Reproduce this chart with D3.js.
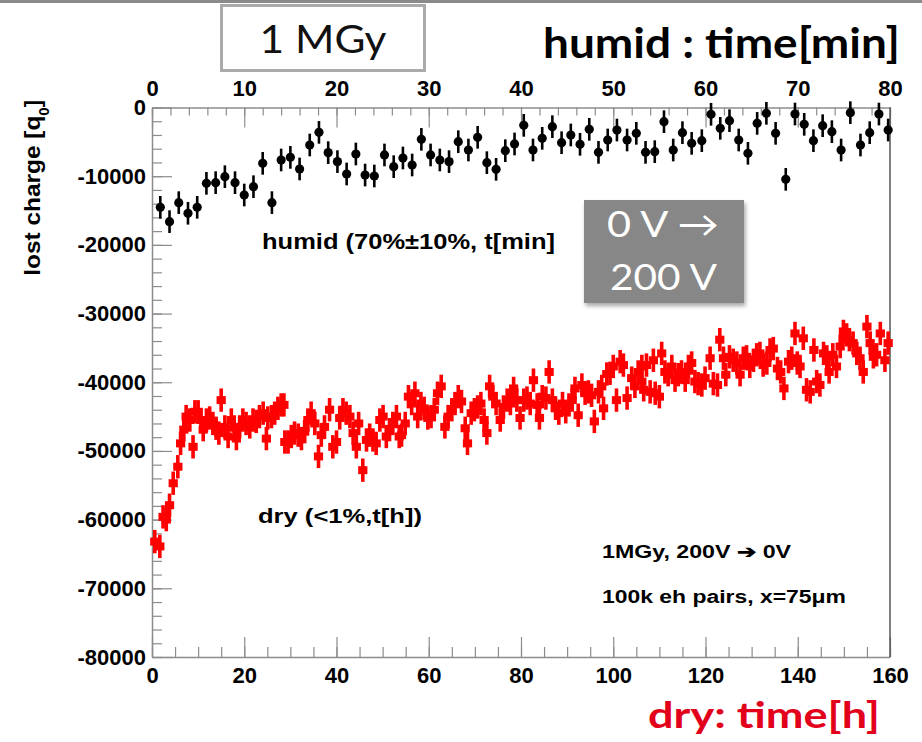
<!DOCTYPE html>
<html>
<head>
<meta charset="utf-8">
<script src="https://cdn.jsdelivr.net/npm/d3@7"></script>
<style>
  html, body { margin: 0; padding: 0; background: #fff; }
  svg { display: block; }
</style>
</head>
<body>
<script>
// ---- data -------------------------------------------------------------
// humid run: time in minutes, lost charge in q0
const humidTime = [0.9,1.9,2.9,3.9,4.9,5.9,6.9,7.9,9.0,10.0,11.0,12.0,13.0,14.0,15.0,16.0,17.1,18.1,19.1,20.1,
  21.1,22.1,23.1,24.1,25.2,26.2,27.2,28.2,29.2,30.2,31.2,32.2,33.2,34.3,35.3,36.3,37.3,38.3,39.3,40.3,
  41.3,42.3,43.4,44.4,45.4,46.4,47.4,48.4,49.4,50.4,51.5,52.5,53.5,54.5,55.5,56.5,57.5,58.5,59.6,60.6,
  61.6,62.6,63.6,64.6,65.6,66.6,67.6,68.7,69.7,70.7,71.7,72.7,73.7,74.7,75.7,76.8,77.8,78.8,79.8];
const humidCharge = [-14530,-16620,-13850,-15400,-14530,-11040,-10940,-10070,-10940,-12740,
  -11530,-8130,-13850,-7640,-7260,-8950,-5460,-3620,-6570,-7880,
  -9680,-6770,-9830,-9970,-6910,-8610,-7350,-8370,-4630,-6910,
  -7640,-7880,-4980,-6190,-4340,-8030,-9000,-6290,-5310,-2600,
  -6190,-4490,-2790,-5120,-4000,-5360,-3180,-6530,-4730,-3280,
  -4730,-3760,-6530,-6430,-2060,-6190,-3660,-5220,-4830,-990,
  -3030,-1920,-4730,-6670,-2310,-850,-3760,-10460,-950,-2450,
  -4830,-2650,-3520,-6190,-750,-5460,-3660,-950,-3280];
const humidError = 1650;

// dry run: time in hours, lost charge in q0
const dryTime = [0.6,1.7,2.4,3.1,3.8,4.6,5.6,6.2,6.9,7.4,8.2,8.9,9.3,10.0,10.6,11.1,11.8,12.5,13.2,13.9,
  14.5,15.0,15.8,16.5,17.2,17.8,18.3,19.0,19.7,20.4,21.2,21.9,22.6,23.3,24.1,24.8,25.1,25.9,26.6,27.3,
  28.0,28.6,28.8,29.5,30.2,30.9,31.7,32.4,33.1,33.8,34.5,35.3,36.1,36.7,37.4,38.5,39.2,40.0,40.7,41.4,
  42.1,42.9,43.6,44.3,44.8,45.7,46.5,47.2,47.9,48.6,49.4,50.1,50.8,51.5,52.2,53.0,53.6,54.1,54.9,55.6,
  56.3,57.0,57.6,58.3,59.0,59.8,60.5,61.2,61.9,62.7,63.5,64.2,65.0,65.7,66.4,67.1,67.9,68.4,69.2,69.9,
  70.6,71.3,72.0,72.6,73.2,73.9,74.6,75.5,76.2,77.0,77.7,78.4,79.1,79.8,80.6,81.3,82.0,82.7,83.5,84.0,
  84.6,85.4,86.1,86.8,87.5,88.2,89.0,89.7,90.4,91.1,91.7,92.4,93.2,93.9,94.6,95.3,95.9,96.8,97.5,97.9,
  98.6,99.3,100.0,100.7,101.5,102.2,103.0,104.0,104.7,105.4,106.2,106.2,106.6,107.2,108.0,108.7,109.1,110.0,110.5,111.2,
  111.9,112.7,113.4,114.1,114.8,115.6,116.3,117.0,117.7,118.4,119.2,119.9,121.0,121.7,122.6,123.1,123.9,124.4,125.2,126.0,
  126.8,127.5,128.2,128.9,129.6,130.4,131.1,131.8,132.5,133.3,134.0,134.7,135.6,136.3,137.0,138.0,138.7,139.4,139.9,140.5,
  141.2,141.9,142.7,143.5,144.1,144.8,145.6,146.3,146.8,147.6,148.4,149.2,149.9,150.6,151.2,152.0,152.8,153.5,154.2,155.0,
  155.7,156.4,157.1,157.9,158.9,159.6];
const dryCharge = [-63200,-63900,-59600,-60000,-57900,-54700,-52300,-48900,-46900,-45000,-45500,-49400,-44300,-44300,-45500,-46900,-45500,-45200,-46000,-46700,
  -47400,-42600,-46500,-47900,-45500,-46500,-48200,-46500,-45500,-46000,-46500,-45500,-45700,-45000,-44500,-48200,-45200,-45000,-44500,-43800,
  -43300,-43300,-48700,-48700,-47900,-47400,-47700,-48200,-47200,-45500,-44500,-46000,-50800,-47700,-46500,-44000,-49400,-48700,-45200,-44000,
  -44500,-45000,-47400,-49400,-46000,-52800,-48400,-47700,-48400,-48900,-45500,-45000,-47900,-46900,-46000,-45000,-47900,-47700,-46000,-42100,
  -43100,-41600,-45000,-43100,-43800,-45200,-45000,-44000,-41600,-40600,-46500,-45000,-44000,-43100,-42100,-42800,-46700,-48900,-44500,-44000,
  -43600,-43100,-45500,-47400,-40600,-42100,-43100,-45500,-43600,-42600,-43100,-40900,-42600,-45200,-42600,-42300,-43100,-39700,-43300,-45200,
  -42100,-42300,-38500,-42600,-43800,-44500,-43100,-44300,-43300,-42600,-40900,-44800,-40400,-41600,-41400,-41900,-45700,-41400,-40600,-43800,
  -38800,-38700,-37700,-42600,-37000,-37500,-42300,-39400,-40600,-38500,-39900,-37700,-41100,-37500,-41400,-36800,-41600,-42100,-35800,-38500,
  -38900,-37700,-39700,-38900,-38500,-39700,-37700,-37200,-39900,-40200,-40400,-39400,-36500,-40200,-40400,-33800,-36500,-38900,-36300,-36800,
  -37200,-38900,-36500,-36300,-37700,-36800,-36000,-35800,-37500,-37200,-35300,-35100,-38000,-38500,-40900,-37000,-36500,-32900,-37200,-37700,
  -33600,-41100,-41400,-35300,-39900,-40400,-35800,-36300,-38500,-36000,-37700,-34800,-32600,-33100,-33800,-34300,-35800,-36500,-38500,-31900,
  -34300,-36300,-36000,-32900,-36800,-34300];
const dryError = 1700;
const dryTimeError = 1.0;

// axis ticks
const chargeTicks = [0,-10000,-20000,-30000,-40000,-50000,-60000,-70000,-80000];
const chargeMinor = d3.range(-80000, 1, 2000);
const hourTicks = [0,20,40,60,80,100,120,140,160];
const hourMinor = d3.range(0, 161, 5);
const minuteTicks = [0,10,20,30,40,50,60,70,80];
const minuteMinor = d3.range(0, 81, 2);

// ---- layout -----------------------------------------------------------
const W = 922, H = 742;
const ROOT_FONT = "'Liberation Sans', Arial, Helvetica, sans-serif";
const SLIDE_FONT = "Lato, 'Open Sans', sans-serif";

const svg = d3.select("body").append("svg").attr("width", W).attr("height", H);
svg.append("rect").attr("width", W).attr("height", H).attr("fill", "#fff");

const defs = svg.append("defs");
const shadow = defs.append("filter").attr("id", "boxShadow")
  .attr("x", "-10%").attr("y", "-10%").attr("width", "130%").attr("height", "130%");
shadow.append("feDropShadow").attr("dx", 1.5).attr("dy", 3).attr("stdDeviation", 2)
  .attr("flood-color", "#000").attr("flood-opacity", 0.35);

const xHour = d3.scaleLinear().domain([0, 160]).range([152, 890]);
const xMin = d3.scaleLinear().domain([0, 80]).range([152, 890]);
const y = d3.scaleLinear().domain([-80000, 0]).range([657, 107.5]);

// slide header line
svg.append("rect").attr("x", 0).attr("y", 0).attr("width", W).attr("height", 3).attr("fill", "#8a8a8a");

// dose box
svg.append("rect").attr("x", 221.5).attr("y", 5.5).attr("width", 203).attr("height", 65)
  .attr("fill", "#fff").attr("stroke", "#ababab").attr("stroke-width", 3);
svg.append("text").attr("x", 323).attr("y", 53).attr("text-anchor", "middle")
  .attr("font-family", SLIDE_FONT).attr("font-size", 38).attr("fill", "#111")
  .attr("textLength", 127).attr("lengthAdjust", "spacingAndGlyphs").text("1 MGy");

// top axis caption
svg.append("text").attr("x", 543).attr("y", 58)
  .attr("font-family", SLIDE_FONT).attr("font-weight", "bold").attr("font-size", 42).attr("fill", "#000")
  .attr("textLength", 357).attr("lengthAdjust", "spacingAndGlyphs").text("humid : time[min]");

// bottom axis caption
svg.append("text").attr("x", 648).attr("y", 728)
  .attr("font-family", SLIDE_FONT).attr("font-weight", "bold").attr("font-size", 36).attr("fill", "#e2001a")
  .attr("textLength", 232).attr("lengthAdjust", "spacingAndGlyphs").text("dry: time[h]");

// ---- axes -------------------------------------------------------------
const axisColor = "#8c8c8c";
function styleAxis(g, fontSize) {
  g.select(".domain").attr("stroke", axisColor).attr("stroke-width", 1.5);
  g.selectAll(".tick line").attr("stroke", axisColor).attr("stroke-width", 1.2);
  g.selectAll(".tick text").attr("fill", "#000").attr("font-family", ROOT_FONT)
    .attr("font-weight", "bold").attr("font-size", fontSize);
}
function minorAxis(g) {
  g.select(".domain").remove();
  g.selectAll(".tick line").attr("stroke", axisColor).attr("stroke-width", 1.2);
}

// left: lost charge
svg.append("g").attr("transform", "translate(152,0)")
  .call(d3.axisLeft(y).tickValues(chargeMinor).tickSize(-10).tickSizeOuter(0).tickFormat(""))
  .call(minorAxis);
svg.append("g").attr("transform", "translate(152,0)")
  .call(d3.axisLeft(y).tickValues(chargeTicks).tickSize(-20).tickSizeOuter(0).tickPadding(6)
    .tickFormat(d => String(d)))
  .call(g => styleAxis(g, 22));

// bottom: dry time in hours
svg.append("g").attr("transform", "translate(0,657)")
  .call(d3.axisBottom(xHour).tickValues(hourMinor).tickSize(-10).tickSizeOuter(0).tickFormat(""))
  .call(minorAxis);
svg.append("g").attr("transform", "translate(0,657)")
  .call(d3.axisBottom(xHour).tickValues(hourTicks).tickSize(-20).tickSizeOuter(0).tickPadding(10)
    .tickFormat(d => String(d)))
  .call(g => styleAxis(g, 22));

// top: humid time in minutes
svg.append("g").attr("transform", "translate(0,107.5)")
  .call(d3.axisTop(xMin).tickValues(minuteMinor).tickSize(-8).tickSizeOuter(0).tickFormat(""))
  .call(minorAxis);
svg.append("g").attr("transform", "translate(0,107.5)")
  .call(d3.axisTop(xMin).tickValues(minuteTicks).tickSize(-20).tickSizeOuter(0).tickPadding(12)
    .tickFormat(d => String(d)))
  .call(g => styleAxis(g, 22));

// right frame edge
svg.append("line").attr("x1", 890).attr("x2", 890).attr("y1", y(0)).attr("y2", y(-80000))
  .attr("stroke", "#555").attr("stroke-width", 1.5);

// y-axis title
const yTitle = svg.append("text")
  .attr("transform", "translate(40,100) rotate(-90)")
  .attr("text-anchor", "end")
  .attr("font-family", ROOT_FONT).attr("font-weight", "bold").attr("font-size", 22).attr("fill", "#000");
yTitle.append("tspan").attr("textLength", 160).attr("lengthAdjust", "spacingAndGlyphs").text("lost charge [q");
yTitle.append("tspan").attr("font-size", 15).attr("baseline-shift", "sub").text("0");
yTitle.append("tspan").text("]");

// ---- data marks -------------------------------------------------------
const dry = dryTime.map((t, i) => ({ t, q: dryCharge[i] }));
const humid = humidTime.map((t, i) => ({ t, q: humidCharge[i] }));

const dryG = svg.append("g").attr("fill", "none").attr("stroke", "#ff0000");
dryG.selectAll("line.ey").data(dry).join("line").attr("class", "ey")
  .attr("x1", d => xHour(d.t)).attr("x2", d => xHour(d.t))
  .attr("y1", d => y(d.q - dryError)).attr("y2", d => y(d.q + dryError))
  .attr("stroke-width", 3.6);
dryG.selectAll("line.ex").data(dry).join("line").attr("class", "ex")
  .attr("x1", d => xHour(d.t - dryTimeError)).attr("x2", d => xHour(d.t + dryTimeError))
  .attr("y1", d => y(d.q)).attr("y2", d => y(d.q))
  .attr("stroke-width", 8);

const humG = svg.append("g");
humG.selectAll("line").data(humid).join("line")
  .attr("x1", d => xMin(d.t)).attr("x2", d => xMin(d.t))
  .attr("y1", d => y(d.q - humidError)).attr("y2", d => y(d.q + humidError))
  .attr("stroke", "#000").attr("stroke-width", 2.6);
humG.selectAll("circle").data(humid).join("circle")
  .attr("cx", d => xMin(d.t)).attr("cy", d => y(d.q)).attr("r", 4.6).attr("fill", "#000");

// ---- annotations ------------------------------------------------------
function rootText(x, yy, size, width, str) {
  return svg.append("text").attr("x", x).attr("y", yy)
    .attr("font-family", ROOT_FONT).attr("font-weight", "bold").attr("font-size", size).attr("fill", "#000")
    .attr("textLength", width).attr("lengthAdjust", "spacingAndGlyphs").text(str);
}
rootText(262, 249, 22, 293, "humid (70%\u00b110%, t[min]");
rootText(258, 523, 21, 164, "dry (<1%,t[h])");
rootText(602, 558, 18, 189, "1MGy, 200V \u2794 0V");
rootText(602, 603, 18, 244, "100k eh pairs, x=75\u03bcm");

// voltage step box
svg.append("rect").attr("x", 584).attr("y", 200).attr("width", 160).attr("height", 103)
  .attr("fill", "#878787").attr("filter", "url(#boxShadow)");
svg.append("text").attr("x", 607).attr("y", 237)
  .attr("font-family", SLIDE_FONT).attr("font-size", 36).attr("fill", "#fff")
  .attr("textLength", 112).attr("lengthAdjust", "spacingAndGlyphs").text("0 V \u2192");
svg.append("text").attr("x", 610).attr("y", 290)
  .attr("font-family", SLIDE_FONT).attr("font-size", 36).attr("fill", "#fff")
  .attr("textLength", 107).attr("lengthAdjust", "spacingAndGlyphs").text("200 V");
</script>
</body>
</html>
